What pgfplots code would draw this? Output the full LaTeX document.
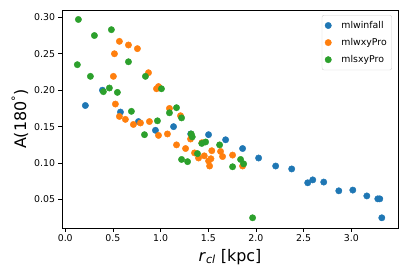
\documentclass[border=0pt]{standalone}
\usepackage{fontspec}
\setmainfont{DejaVu Sans}
\usepackage{pgfplots}
\pgfplotsset{compat=1.18}
\definecolor{czero}{HTML}{1F77B4}
\definecolor{cone}{HTML}{FF7F0E}
\definecolor{ctwo}{HTML}{2CA02C}
\begin{document}
\begin{tikzpicture}
\path[use as bounding box] (-62bp,-47bp) rectangle (345bp,228bp);
\begin{axis}[
  at={(0,0)}, anchor=south west,
  scale only axis, width=336bp, height=218bp,
  xmin=-0.034, xmax=3.49, ymin=0.011, ymax=0.310,
  axis line style={line width=0.6pt},
  tick align=outside, xtick pos=left, ytick pos=left,
  major tick length=3.5bp,
  tick style={line width=0.6pt, black},
  xtick={0,0.5,1,1.5,2,2.5,3},
  ytick={0.05,0.10,0.15,0.20,0.25,0.30},
  xticklabel style={/pgf/number format/.cd, fixed, fixed zerofill, precision=1},
  yticklabel style={/pgf/number format/.cd, fixed, fixed zerofill, precision=2},
  /pgf/number format/assume math mode=true,
  ticklabel style={font=\fontsize{9.4}{11}\selectfont},
  xlabel={\textit{r}\textsubscript{\textit{cl}} [kpc]},
  ylabel={A(180\textsuperscript{°})},
  xlabel style={font=\fontsize{16}{18}\selectfont, yshift=0bp},
  ylabel style={font=\fontsize{16}{18}\selectfont, yshift=-1bp},
  legend style={at={(0.982,0.977)}, anchor=north east, draw=black!18, rounded corners=2pt,
    font=\fontsize{9.4}{11}\selectfont, inner xsep=3bp, inner ysep=4bp, row sep=4.5bp,
    /tikz/every odd column/.append style={column sep=8bp}},
  legend cell align=left,
  mark size=3.2bp,
]
\addplot[only marks, mark=*, czero, mark options={solid, draw=czero, fill=czero}] coordinates {
(0.211,0.179) (0.390,0.200) (0.579,0.170) (0.768,0.157) (0.946,0.145)
(1.136,0.150) (1.316,0.140) (1.503,0.139) (1.682,0.132) (1.860,0.120)
(2.028,0.107) (2.207,0.096) (2.375,0.092) (2.543,0.073) (2.596,0.077)
(2.711,0.074) (2.869,0.062) (3.016,0.063) (3.163,0.055) (3.278,0.051)
(3.299,0.051) (3.320,0.025)
};
\addlegendentry{mlwinfall}
\addplot[only marks, mark=*, cone, mark options={solid, draw=cone, fill=cone}] coordinates {
(0.568,0.267) (0.663,0.262) (0.757,0.257) (0.516,0.250) (0.873,0.224)
(0.505,0.219) (0.978,0.205) (0.957,0.202) (0.526,0.181) (0.568,0.164)
(0.631,0.160) (0.715,0.153) (0.789,0.155) (0.883,0.157) (0.978,0.138)
(1.093,0.175) (1.209,0.165) (1.072,0.140) (1.167,0.125) (1.262,0.120)
(1.314,0.133) (1.356,0.114) (1.398,0.107) (1.434,0.128) (1.458,0.110)
(1.503,0.103) (1.514,0.096) (1.528,0.106) (1.537,0.117) (1.629,0.116)
(1.650,0.109) (1.755,0.111) (1.860,0.096)
};
\addlegendentry{mlwxyPro}
\addplot[only marks, mark=*, ctwo, mark options={solid, draw=ctwo, fill=ctwo}] coordinates {
(0.138,0.297) (0.306,0.275) (0.484,0.283) (0.127,0.235) (0.264,0.219)
(0.663,0.239) (0.841,0.219) (1.009,0.202) (0.463,0.203) (0.400,0.198)
(0.547,0.197) (0.694,0.171) (0.967,0.158) (0.831,0.139) (1.167,0.176)
(1.093,0.169) (1.220,0.162) (1.321,0.140) (1.332,0.136) (1.432,0.127)
(1.472,0.129) (1.387,0.113) (1.220,0.105) (1.283,0.102) (1.619,0.125)
(1.755,0.095) (1.839,0.105) (1.871,0.099) (1.965,0.025)
};
\addlegendentry{mlsxyPro}
\end{axis}
\end{tikzpicture}
\end{document}
